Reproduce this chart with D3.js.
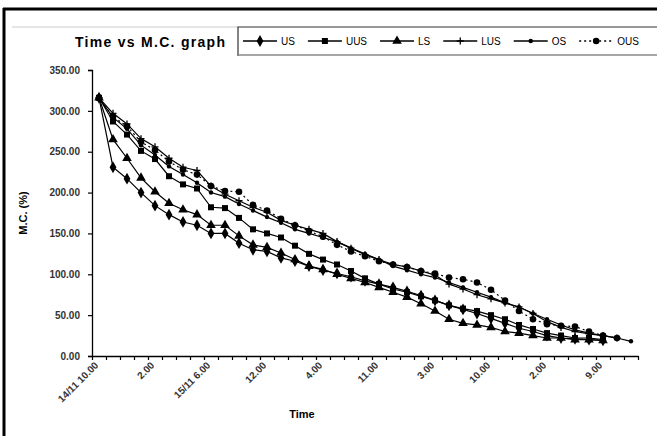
<!DOCTYPE html>
<html><head><meta charset="utf-8">
<script src="https://cdn.jsdelivr.net/npm/d3@7"></script>
<style>html,body{margin:0;padding:0;background:#fff;}svg{display:block;}</style>
</head><body>
<svg id="c" width="657" height="436"></svg>
<script>
// ---- data ----
const categories = d3.range(39); // 39 time readings along the category axis
const tickLabels = ["14/11 10.00","2.00","15/11 6.00","12.00","4.00","11.00","3.00","10.00","2.00","9.00"];
const tickLabelEvery = 4;
const yTicks = [0,50,100,150,200,250,300,350];
const seriesNames = ["US","UUS","LS","LUS","OS","OUS"];
const US  = [316,231,217,200,184,173,164,160,150,150,138,130,128,120,116,110,105,101,97,92,88,84,79,74,68,62,57,52,46,40,34,30,25,22,21,20,19];
const UUS = [316,287,271,251,241,220,210,205,182,181,169,155,150,145,135,125,118,112,104,95,88,82,78,73,68,62,58,55,50,45,38,33,28,25,22,22,20];
const LS  = [316,265,242,218,201,187,179,173,160,160,147,136,133,126,118,110,106,100,95,90,84,78,72,64,55,45,40,38,35,30,28,25,22,22,20,20,19];
const LUS = [316,297,284,266,256,242,231,227,208,198,190,182,176,166,160,155,150,140,132,124,118,112,109,104,99,88,82,75,70,65,60,52,42,35,30,27,25,22];
const OS  = [316,292,278,258,246,232,222,212,200,195,186,178,170,163,155,150,145,140,132,125,118,110,105,100,96,90,84,78,72,65,60,52,45,38,32,28,25,22,18];
const OUS = [316,293,281,262,252,238,228,222,208,202,201,185,178,168,160,153,146,136,128,122,116,112,109,104,101,96,94,90,81,68,55,45,39,37,36,30,25,22];

const seriesData = [US,UUS,LS,LUS,OS,OUS];
const markers = ["diamond","square","triangle","plus","dot","circle"];
const dashes = [null,null,null,null,null,"2,3"];

// ---- layout ----
const svg = d3.select("#c");
const m = {left:92, right:638, top:70, bottom:356};
const FONT = "Liberation Sans, Arial, sans-serif";

// outer frame
svg.append("rect").attr("x",0).attr("y",0).attr("width",657).attr("height",436).attr("fill","#fff");
svg.append("line").attr("x1",3).attr("x2",657).attr("y1",9).attr("y2",9).attr("stroke","#000").attr("stroke-width",3);
svg.append("line").attr("x1",4).attr("x2",4).attr("y1",8).attr("y2",436).attr("stroke","#000").attr("stroke-width",3);
svg.append("line").attr("x1",12).attr("x2",238).attr("y1",27).attr("y2",27).attr("stroke","#ccc").attr("stroke-width",1);

const x = d3.scaleBand().domain(categories).range([m.left,m.right]);
const y = d3.scaleLinear().domain([0,350]).range([m.bottom,m.top]);

// y axis
const yAxis = d3.axisLeft(y).tickValues(yTicks).tickFormat(d3.format(".2f")).tickSize(4).tickPadding(8);
const gy = svg.append("g").attr("transform",`translate(${m.left},0)`).call(yAxis);
gy.select(".domain").attr("stroke","#000").attr("stroke-width",1.3);
gy.selectAll(".tick line").attr("stroke","#000").attr("stroke-width",1.2);
gy.selectAll("text").attr("font-family",FONT).attr("font-size",10).attr("font-weight","bold").attr("fill","#333");

// x axis: ticks at category boundaries
const xb = d3.scaleLinear().domain([0,categories.length]).range([m.left,m.right]);
const xAxis = d3.axisBottom(xb).tickValues(d3.range(0,categories.length+1)).tickFormat("").tickSize(4).tickSizeOuter(0);
const gx = svg.append("g").attr("transform",`translate(0,${m.bottom})`).call(xAxis);
gx.select(".domain").attr("stroke","#000").attr("stroke-width",1.3);
gx.selectAll(".tick line").attr("stroke","#000").attr("stroke-width",1.2);

// x tick labels
svg.append("g").selectAll("text").data(tickLabels).join("text")
  .attr("transform",(d,i)=>`translate(${x(categories[i*tickLabelEvery])+x.bandwidth()/2},${m.bottom+10}) rotate(-45)`)
  .attr("text-anchor","end")
  .attr("font-family",FONT).attr("font-size",10).attr("font-weight","bold").attr("fill","#333")
  .text(d=>d);

// axis titles
svg.append("text").attr("transform",`translate(27,${(m.top+m.bottom)/2}) rotate(-90)`)
  .attr("text-anchor","middle").attr("font-family",FONT).attr("font-size",11).attr("font-weight","bold")
  .text("M.C. (%)");
svg.append("text").attr("x",302).attr("y",418).attr("text-anchor","middle")
  .attr("font-family",FONT).attr("font-size",11).attr("font-weight","bold").text("Time");

// title
svg.append("text").attr("x",75).attr("y",47).attr("font-family",FONT).attr("font-size",14).attr("font-weight","bold")
  .attr("textLength",150).text("Time vs M.C. graph");

// marker drawing
function drawMarker(g, type, cx, cy) {
  if (type==="diamond") g.append("path").attr("d",d3.symbol(d3.symbolDiamond, 40)()).attr("transform",`translate(${cx},${cy})`).attr("fill","#000");
  else if (type==="square") g.append("path").attr("d",d3.symbol(d3.symbolSquare, 36)()).attr("transform",`translate(${cx},${cy})`).attr("fill","#000");
  else if (type==="triangle") g.append("path").attr("d",d3.symbol(d3.symbolTriangle, 40)()).attr("transform",`translate(${cx},${cy})`).attr("fill","#000");
  else if (type==="plus") g.append("path").attr("d",`M${cx-3.5},${cy}H${cx+3.5}M${cx},${cy-3.5}V${cy+3.5}`).attr("stroke","#000").attr("stroke-width",1.3).attr("fill","none");
  else if (type==="dot") g.append("circle").attr("cx",cx).attr("cy",cy).attr("r",2.2).attr("fill","#000");
  else if (type==="circle") g.append("circle").attr("cx",cx).attr("cy",cy).attr("r",3.3).attr("fill","#000");
}

// series
const line = d3.line().x((d,i)=>x(categories[i])+x.bandwidth()/2).y(d=>y(d));
seriesData.forEach((vals,si)=>{
  const g = svg.append("g");
  g.append("path").attr("d",line(vals)).attr("fill","none").attr("stroke","#000").attr("stroke-width",1.2)
    .attr("stroke-dasharray",dashes[si]);
  vals.forEach((v,i)=>drawMarker(g, markers[si], x(categories[i])+x.bandwidth()/2, y(v)));
});

// legend (entries laid out left to right)
const lg = svg.append("g");
lg.append("path").attr("d","M238,56V27H657").attr("fill","none").attr("stroke","#333").attr("stroke-width",1.2);
lg.append("line").attr("x1",238).attr("x2",657).attr("y1",55).attr("y2",55).attr("stroke","#888").attr("stroke-width",1.5);
let lx = 243;
const cyL = 41, lineLen = 34;
seriesNames.forEach((n,i)=>{
  const x0 = lx, x1 = lx + lineLen;
  lg.append("line").attr("x1",x0).attr("x2",x1).attr("y1",cyL).attr("y2",cyL).attr("stroke","#000").attr("stroke-width",1.3).attr("stroke-dasharray",dashes[i]);
  drawMarker(lg, markers[i], (x0+x1)/2, cyL);
  const t = lg.append("text").attr("x",x1+4).attr("y",cyL+4).attr("font-family",FONT).attr("font-size",10).text(n);
  lx = x1 + 4 + t.node().getComputedTextLength() + 13;
});
</script>
</body></html>
